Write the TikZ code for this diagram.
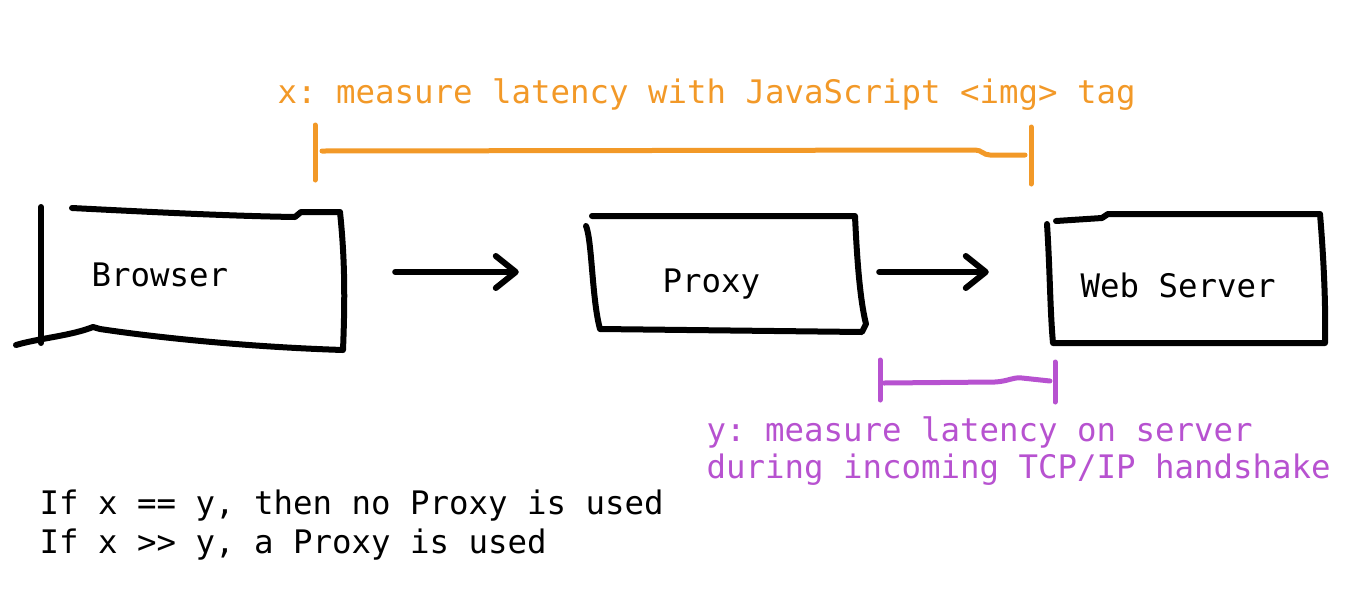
\documentclass[tikz,border=0pt]{standalone}
\usepackage{fontspec}
\setmonofont{DejaVu Sans Mono}
\usetikzlibrary{arrows.meta}
\definecolor{xorange}{RGB}{242,153,40}
\definecolor{ypurple}{RGB}{183,82,208}
\begin{document}
\begin{tikzpicture}[x=1pt, y=-1pt, line cap=round, line join=round,
  hand/.style={line width=6pt},
  box/.style={minimum width=#1, minimum height=134pt, inner sep=0pt},
  lbl/.style={anchor=base west, font=\ttfamily\fontsize{32.4}{38}\selectfont},
  flow/.style={hand, -{Straight Barb[length=20pt,width=32pt,round]}},
  bar/.style={line width=5pt}]
\useasboundingbox (0,0) rectangle (1345,590);
\node[box=302pt] (browser) at (192,272) {};
\node[box=276pt] (proxy) at (727,272) {};
\node[box=276pt] (server) at (1186,272) {};
\node[lbl] (browsertxt) at (88,286) {Browser};
\node[lbl] (proxytxt) at (659,292) {Proxy};
\node[lbl] (servertxt) at (1077,297) {Web Server};
\draw[hand] (41,207) -- (41,343);
\draw[hand] (72,208) .. controls (150,212) and (230,216) .. (295,217) -- (301,212) -- (340,212)
  .. controls (345,260) and (345,300) .. (343,350)
  .. controls (250,347) and (160,338) .. (100,329) -- (93,327)
  .. controls (70,336) and (40,338) .. (16,345);
\draw[hand] (592,216) -- (855,216) .. controls (857,260) and (860,300) .. (866,324) -- (862,332)
  -- (600,329) .. controls (592,300) and (592,240) .. (586,226);
\draw[hand] (1047,224) .. controls (1050,270) and (1050,310) .. (1053,343) -- (1325,343)
  .. controls (1326,300) and (1323,250) .. (1320,214) -- (1108,214) -- (1102,218) -- (1056,221);
\draw[flow, shorten <=52pt, shorten >=70pt] (browser.east) -- (proxy.west);
\draw[flow, shorten <=14pt, shorten >=59pt] (proxy.east) -- (server.west);
\node[lbl, text=xorange] (xnote) at (274,103) {x: measure latency with JavaScript <img> tag};
\draw[bar, xorange] (315,125) -- (315,180);
\draw[bar, xorange] (1031,127) -- (1031,184);
\draw[bar, xorange] (322,151) -- (975,150) .. controls (982,150) and (983,155) .. (990,155) -- (1025,155);
\draw[bar, ypurple] (880,360) -- (880,400);
\draw[bar, ypurple] (1055,362) -- (1055,402);
\draw[bar, ypurple] (884,383) -- (995,382) .. controls (1010,381) and (1012,377) .. (1022,378) -- (1050,381);
\node[lbl, text=ypurple] (ynote) at (703,441) {y: measure latency on server};
\node[lbl, text=ypurple] (ynote2) at (703,478) {during incoming TCP/IP handshake};
\node[lbl] (rule1) at (36,514) {If x == y, then no Proxy is used};
\node[lbl] (rule2) at (36,553) {If x >> y, a Proxy is used};
\end{tikzpicture}
\end{document}
